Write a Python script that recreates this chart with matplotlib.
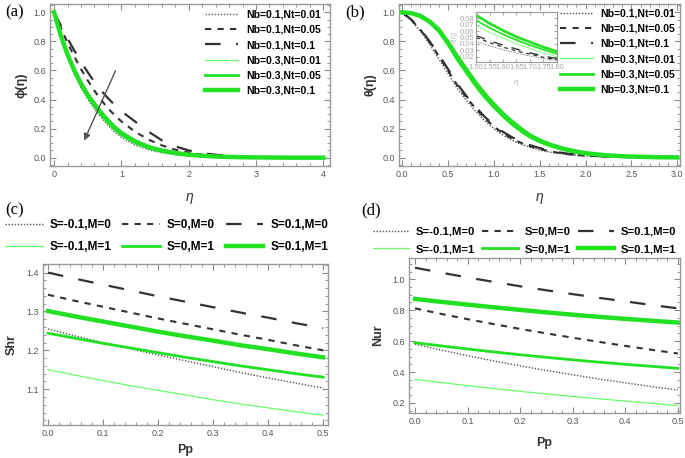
import matplotlib
matplotlib.use('Agg')
import matplotlib.pyplot as plt
from matplotlib.ticker import MultipleLocator, AutoMinorLocator

plt.rcParams['font.family'] = ['Liberation Sans', 'DejaVu Sans']

# ---- data -------------------------------------------------------------
labels_ab = ['Nb=0.1,Nt=0.01', 'Nb=0.1,Nt=0.05', 'Nb=0.1,Nt=0.1',
             'Nb=0.3,Nt=0.01', 'Nb=0.3,Nt=0.05', 'Nb=0.3,Nt=0.1']
labels_cd = ['S=-0.1,M=0', 'S=0,M=0', 'S=0.1,M=0',
             'S=-0.1,M=1', 'S=0,M=1', 'S=0.1,M=1']

# (a) concentration profile phi(eta)
eta_a = [0, 0.1, 0.2, 0.3, 0.4, 0.5, 0.6, 0.7, 0.8, 0.9, 1.0, 1.2, 1.4, 1.6, 1.8, 2.0,
         2.2, 2.4, 2.6, 2.8, 3.0, 3.5, 4.0]
phi_nb01_nt001 = [1, 0.83, 0.69, 0.575, 0.48, 0.402, 0.336, 0.277, 0.224, 0.178, 0.140, 0.088,
                  0.055, 0.034, 0.021, 0.013, 0.008, 0.004, 0.002, 0.001, 0.001, 0, 0]
phi_nb01_nt005 = [1, 0.895, 0.79, 0.697, 0.61, 0.532, 0.46, 0.397, 0.34, 0.292, 0.25, 0.18,
                  0.125, 0.085, 0.055, 0.035, 0.022, 0.013, 0.008, 0.004, 0.002, 0.001, 0]
phi_nb01_nt01 = [1, 0.91, 0.82, 0.738, 0.66, 0.588, 0.52, 0.462, 0.41, 0.362, 0.32, 0.25,
                 0.18, 0.12, 0.078, 0.05, 0.032, 0.02, 0.012, 0.006, 0.003, 0.001, 0]
phi_nb03_nt001 = [1, 0.835, 0.70, 0.587, 0.49, 0.412, 0.345, 0.286, 0.233, 0.188, 0.150, 0.097,
                  0.062, 0.039, 0.024, 0.015, 0.009, 0.005, 0.003, 0.002, 0.001, 0, 0]
phi_nb03_nt005 = [1, 0.838, 0.705, 0.594, 0.50, 0.422, 0.356, 0.297, 0.244, 0.198, 0.160, 0.105,
                  0.068, 0.044, 0.028, 0.018, 0.011, 0.007, 0.004, 0.002, 0.001, 0, 0]
phi_nb03_nt01 = [1, 0.841, 0.71, 0.601, 0.51, 0.432, 0.367, 0.308, 0.255, 0.208, 0.170, 0.113,
                 0.074, 0.049, 0.032, 0.021, 0.013, 0.008, 0.005, 0.003, 0.002, 0, 0]

# (b) temperature profile theta(eta)
eta_b = [0, 0.1, 0.2, 0.3, 0.4, 0.5, 0.6, 0.7, 0.8, 0.9, 1.0, 1.1, 1.2, 1.3, 1.4, 1.5, 1.6,
         1.7, 1.8, 1.9, 2.0, 2.2, 2.4, 2.6, 2.8, 3.0]
th_nb01_nt001 = [1, 0.945, 0.87, 0.78, 0.68, 0.58, 0.48, 0.395, 0.32, 0.255, 0.20, 0.156, 0.12,
                 0.093, 0.07, 0.053, 0.04, 0.03, 0.022, 0.016, 0.012, 0.007, 0.004, 0.002, 0.001, 0.001]
th_nb01_nt005 = [1, 0.948, 0.88, 0.795, 0.70, 0.60, 0.50, 0.415, 0.34, 0.272, 0.215, 0.168, 0.13,
                 0.101, 0.078, 0.06, 0.045, 0.034, 0.025, 0.018, 0.014, 0.008, 0.005, 0.003, 0.001, 0.001]
th_nb01_nt01 = [1, 0.95, 0.885, 0.80, 0.71, 0.61, 0.51, 0.425, 0.35, 0.282, 0.225, 0.178, 0.14,
                0.11, 0.085, 0.066, 0.05, 0.038, 0.028, 0.021, 0.016, 0.009, 0.005, 0.003, 0.002, 0.001]
th_nb03_nt001 = [1, 0.992, 0.965, 0.925, 0.86, 0.77, 0.665, 0.575, 0.485, 0.407, 0.34, 0.277, 0.22,
                 0.174, 0.135, 0.104, 0.08, 0.061, 0.046, 0.035, 0.026, 0.015, 0.008, 0.005, 0.003, 0.002]
th_nb03_nt005 = [1, 0.993, 0.97, 0.93, 0.87, 0.78, 0.68, 0.59, 0.50, 0.42, 0.35, 0.287, 0.23,
                 0.182, 0.14, 0.11, 0.085, 0.066, 0.05, 0.038, 0.028, 0.016, 0.009, 0.005, 0.003, 0.002]
th_nb03_nt01 = [1, 0.994, 0.975, 0.937, 0.88, 0.793, 0.695, 0.605, 0.515, 0.436, 0.365, 0.30, 0.245,
                0.194, 0.15, 0.118, 0.092, 0.072, 0.055, 0.042, 0.031, 0.018, 0.01, 0.006, 0.003, 0.002]

# (b) inset zoom
eta_ins = [1.5, 1.55, 1.6, 1.65, 1.7, 1.75, 1.8]
ins_nb01_nt001 = [0.044, 0.037, 0.031, 0.026, 0.021, 0.017, 0.014]
ins_nb01_nt005 = [0.050, 0.042, 0.035, 0.029, 0.024, 0.019, 0.015]
ins_nb01_nt01 = [0.053, 0.045, 0.038, 0.032, 0.026, 0.021, 0.017]
ins_nb03_nt001 = [0.069, 0.058, 0.049, 0.040, 0.033, 0.026, 0.020]
ins_nb03_nt005 = [0.077, 0.065, 0.055, 0.046, 0.038, 0.031, 0.024]
ins_nb03_nt01 = [0.085, 0.072, 0.061, 0.051, 0.043, 0.035, 0.028]

# (c) Shr and (d) Nur vs Pp
pp = [0, 0.05, 0.1, 0.15, 0.2, 0.25, 0.3, 0.35, 0.4, 0.45, 0.5]
shr_sm01_m0 = [1.255, 1.237, 1.220, 1.204, 1.188, 1.173, 1.158, 1.143, 1.129, 1.116, 1.103]
shr_s0_m0 = [1.343, 1.327, 1.312, 1.297, 1.282, 1.268, 1.254, 1.240, 1.227, 1.213, 1.200]
shr_s01_m0 = [1.400, 1.384, 1.369, 1.354, 1.339, 1.325, 1.311, 1.297, 1.284, 1.270, 1.257]
shr_sm01_m1 = [1.150, 1.136, 1.122, 1.109, 1.097, 1.085, 1.073, 1.062, 1.052, 1.042, 1.033]
shr_s0_m1 = [1.244, 1.231, 1.218, 1.206, 1.194, 1.182, 1.171, 1.160, 1.150, 1.140, 1.131]
shr_s01_m1 = [1.301, 1.287, 1.274, 1.261, 1.248, 1.236, 1.225, 1.213, 1.203, 1.192, 1.182]

nur_sm01_m0 = [0.580, 0.542, 0.506, 0.472, 0.440, 0.410, 0.382, 0.355, 0.330, 0.306, 0.284]
nur_s0_m0 = [0.812, 0.776, 0.742, 0.710, 0.679, 0.650, 0.622, 0.595, 0.569, 0.544, 0.520]
nur_s01_m0 = [1.075, 1.043, 1.012, 0.983, 0.955, 0.929, 0.904, 0.880, 0.857, 0.834, 0.812]
nur_sm01_m1 = [0.353, 0.332, 0.312, 0.293, 0.275, 0.258, 0.242, 0.227, 0.212, 0.197, 0.183]
nur_s0_m1 = [0.590, 0.569, 0.549, 0.530, 0.512, 0.495, 0.479, 0.464, 0.450, 0.437, 0.424]
nur_s01_m1 = [0.873, 0.854, 0.836, 0.819, 0.802, 0.786, 0.771, 0.757, 0.744, 0.732, 0.720]

# ---- line styles (dotted, short dash, long dash, thin/mid/thick green) --
styles = [
    dict(color='#555555', lw=1.0, linestyle=(0, (1, 1.2))),
    dict(color='#333333', lw=1.5, linestyle=(0, (3, 3))),
    dict(color='#333333', lw=1.6, linestyle=(0, (7, 7))),
    dict(color='#66ff66', lw=0.9),
    dict(color='#22e022', lw=2.0),
    dict(color='#22e022', lw=3.2),
]


def style_axes(ax, xmaj, xmin_div, ymaj, ymin_div):
    for sp in ax.spines.values():
        sp.set_color('#9a9a9a')
        sp.set_linewidth(1.0)
    ax.xaxis.set_major_locator(MultipleLocator(xmaj))
    ax.yaxis.set_major_locator(MultipleLocator(ymaj))
    ax.xaxis.set_minor_locator(AutoMinorLocator(xmin_div))
    ax.yaxis.set_minor_locator(AutoMinorLocator(ymin_div))
    ax.tick_params(which='both', direction='in', top=True, right=True,
                   colors='#8a8a8a', labelcolor='#555555', labelsize=6.5, pad=3)
    ax.tick_params(which='major', length=4)
    ax.tick_params(which='minor', length=2)


fig = plt.figure(figsize=(6.85, 4.58), dpi=100)

# ---- (a) --------------------------------------------------------------
ax_a = fig.add_axes([0.0730, 0.6376, 0.4088, 0.3537])
for y, st, lab in zip([phi_nb01_nt001, phi_nb01_nt005, phi_nb01_nt01,
                       phi_nb03_nt001, phi_nb03_nt005, phi_nb03_nt01], styles, labels_ab):
    ax_a.plot(eta_a, y, label=lab, **st)
ax_a.set_xlim(-0.06, 4.1)
ax_a.set_ylim(-0.057, 1.057)
style_axes(ax_a, 1, 5, 0.2, 4)
ax_a.annotate('', xy=(0.43, 0.1), xytext=(0.93, 0.615),
              arrowprops=dict(arrowstyle='-|>', color='#555555', lw=1.0,
                              mutation_scale=10))
ax_a.set_xlabel('η', fontsize=10, style='italic', color='#333333', labelpad=8)
ax_a.set_ylabel('ϕ(η)', fontsize=9, fontweight='bold', color='#333333', labelpad=4)
ax_a.legend(loc='upper left', bbox_to_anchor=(0.554, 0.965), frameon=False,
            prop=dict(weight='bold', size=7.5), handlelength=3.2,
            handletextpad=0.7, labelspacing=0.5, borderpad=0, borderaxespad=0)
fig.text(0.007, 0.972, '(a)', family='Liberation Serif', fontsize=12, va='center')

# ---- (b) --------------------------------------------------------------
ax_b = fig.add_axes([0.5825, 0.6376, 0.4102, 0.3537])
for y, st, lab in zip([th_nb01_nt001, th_nb01_nt005, th_nb01_nt01,
                       th_nb03_nt001, th_nb03_nt005, th_nb03_nt01], styles, labels_ab):
    ax_b.plot(eta_b, y, label=lab, **st)
ax_b.set_xlim(-0.033, 3.03)
ax_b.set_ylim(-0.057, 1.057)
style_axes(ax_b, 0.5, 5, 0.2, 4)
ax_b.set_xlabel('η', fontsize=10, style='italic', color='#333333', labelpad=8)
ax_b.set_ylabel('θ(η)', fontsize=9, fontweight='bold', color='#333333', labelpad=4)
ax_b.legend(loc='upper left', bbox_to_anchor=(0.573, 0.972), frameon=True,
            facecolor='white', edgecolor='none', framealpha=1,
            prop=dict(weight='bold', size=7.5), handlelength=3.2,
            handletextpad=0.7, labelspacing=0.5, borderpad=0, borderaxespad=0)
fig.text(0.504, 0.972, '(b)', family='Liberation Serif', fontsize=12, va='center')

# inset
ax_in = fig.add_axes([0.695, 0.865, 0.118, 0.109])
for y, st in zip([ins_nb01_nt001, ins_nb01_nt005, ins_nb01_nt01,
                  ins_nb03_nt001, ins_nb03_nt005, ins_nb03_nt01], styles):
    st2 = dict(st)
    st2['lw'] = st['lw'] * 0.6
    ax_in.plot(eta_ins, y, **st2)
ax_in.set_xlim(1.5, 1.8)
ax_in.set_ylim(0.012, 0.09)
ax_in.set_xticks(eta_ins)
ax_in.set_yticks([0.02, 0.03, 0.04, 0.05, 0.06, 0.07, 0.08])
for sp in ax_in.spines.values():
    sp.set_color('#9a9a9a')
    sp.set_linewidth(0.8)
ax_in.tick_params(direction='in', top=True, right=True, length=2, colors='#aaaaaa',
                  labelcolor='#aaaaaa', labelsize=5.5, pad=1.5)
ax_in.set_xlabel('η', fontsize=6, style='italic', color='#aaaaaa', labelpad=6)
ax_in.set_ylabel('θ(η)', fontsize=5.5, color='#bbbbbb', labelpad=1)

order = [0, 3, 1, 4, 2, 5]

# ---- (c) --------------------------------------------------------------
ax_c = fig.add_axes([0.0628, 0.0721, 0.4161, 0.3515])
lines_c = []
for y, st, lab in zip([shr_sm01_m0, shr_s0_m0, shr_s01_m0,
                       shr_sm01_m1, shr_s0_m1, shr_s01_m1], styles, labels_cd):
    ln, = ax_c.plot(pp, y, label=lab, **st)
    lines_c.append(ln)
ax_c.set_xlim(-0.009, 0.509)
ax_c.set_ylim(1.008, 1.422)
style_axes(ax_c, 0.1, 5, 0.1, 5)
ax_c.set_xlabel('Pp', fontsize=9, fontweight='bold', color='#333333', labelpad=4)
ax_c.set_ylabel('Shr', fontsize=9, fontweight='bold', color='#333333', labelpad=6)
fig.legend([lines_c[i] for i in order], [labels_cd[i] for i in order], ncol=3,
           loc='upper left', bbox_to_anchor=(0.007, 0.522), frameon=False,
           prop=dict(weight='bold', size=8.5), handlelength=3.2, handletextpad=0.6,
           labelspacing=0.85, columnspacing=0.9, borderpad=0, borderaxespad=0)
fig.text(0.007, 0.541, '(c)', family='Liberation Serif', fontsize=12, va='center')

# ---- (d) --------------------------------------------------------------
ax_d = fig.add_axes([0.5971, 0.0983, 0.3956, 0.3384])
lines_d = []
for y, st, lab in zip([nur_sm01_m0, nur_s0_m0, nur_s01_m0,
                       nur_sm01_m1, nur_s0_m1, nur_s01_m1], styles, labels_cd):
    ln, = ax_d.plot(pp, y, label=lab, **st)
    lines_d.append(ln)
ax_d.set_xlim(-0.0114, 0.504)
ax_d.set_ylim(0.135, 1.138)
style_axes(ax_d, 0.1, 5, 0.2, 4)
ax_d.set_xlabel('Pp', fontsize=9, fontweight='bold', color='#333333', labelpad=8)
ax_d.set_ylabel('Nur', fontsize=9, fontweight='bold', color='#333333', labelpad=6)
fig.legend([lines_d[i] for i in order], [labels_cd[i] for i in order], ncol=3,
           loc='upper left', bbox_to_anchor=(0.544, 0.505), frameon=False,
           prop=dict(weight='bold', size=8.1), handlelength=3.2, handletextpad=0.6,
           labelspacing=0.65, columnspacing=0.65, borderpad=0, borderaxespad=0)
fig.text(0.527, 0.541, '(d)', family='Liberation Serif', fontsize=12, va='center')

fig.savefig('out.png', dpi=100)
